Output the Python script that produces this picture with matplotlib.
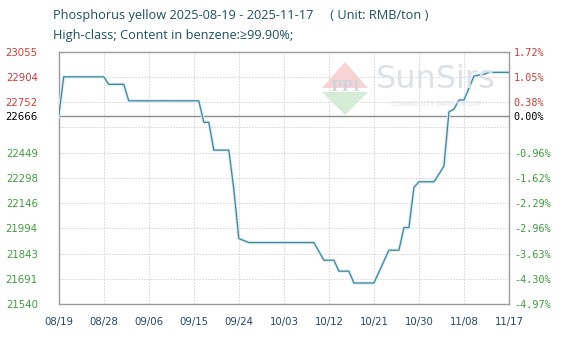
import matplotlib
matplotlib.use("Agg")
import matplotlib.pyplot as plt
import matplotlib.dates as mdates
from matplotlib.patches import Polygon
import numpy as np
import pandas as pd

# ---------------- data ----------------
dates = ["2025-08-19", "2025-08-20", "2025-08-28", "2025-08-29", "2025-09-01", "2025-09-02",
         "2025-09-16", "2025-09-17", "2025-09-18", "2025-09-19", "2025-09-22", "2025-09-23",
         "2025-09-24", "2025-09-26", "2025-10-09", "2025-10-11", "2025-10-13", "2025-10-14",
         "2025-10-16", "2025-10-17", "2025-10-21", "2025-10-24", "2025-10-26", "2025-10-27",
         "2025-10-28", "2025-10-29", "2025-10-30", "2025-11-02", "2025-11-03", "2025-11-04",
         "2025-11-05", "2025-11-06", "2025-11-07", "2025-11-08", "2025-11-10", "2025-11-12",
         "2025-11-13", "2025-11-17"]
prices = [22666, 22904, 22904, 22859, 22859, 22760,
          22760, 22631, 22631, 22464, 22464, 22230,
          21933, 21909, 21909, 21803, 21803, 21737,
          21737, 21666, 21666, 21863, 21863, 21999,
          21999, 22240, 22274, 22274, 22320, 22368,
          22694, 22710, 22765, 22765, 22909, 22920,
          22931, 22931]

base_price = 22666
y_min, y_max = 21540, 23055
left_labels = ["21540", "21691", "21843", "21994", "22146", "22298", "22449", "", "22752", "22904", "23055"]
right_labels = ["-4.97%", "-4.30%", "-3.63%", "-2.96%", "-2.29%", "-1.62%", "-0.96%", "", "0.38%", "1.05%", "1.72%"]
base_left_label = "22666"
base_right_label = "0.00%"
x_labels = ["08/19", "08/28", "09/06", "09/15", "09/24", "10/03", "10/12", "10/21", "10/30", "11/08", "11/17"]
x_tick_dates = ["2025-08-19", "2025-08-28", "2025-09-06", "2025-09-15", "2025-09-24", "2025-10-03",
                "2025-10-12", "2025-10-21", "2025-10-30", "2025-11-08", "2025-11-17"]
title1 = "Phosphorus yellow 2025-08-19 - 2025-11-17     ( Unit: RMB/ton )"
title2 = "High-class; Content in benzene:\u226599.90%;"

# ---------------- style ----------------
RED = "#d23a3a"
GREEN = "#3f9a3f"
TITLE_C = "#1f4f5f"
XLAB_C = "#23466b"
LINE_C = "#4a8698"
GRID_C = "#d2d2d2"
FRAME_C = "#9a9a9a"

W, H = 572, 343
fig = plt.figure(figsize=(W / 100, H / 100), dpi=100)
ax_l, ax_r, ax_t, ax_b = 58.7, 509, 51.7, 304
ax = fig.add_axes([ax_l / W, 1 - ax_b / H, (ax_r - ax_l) / W, (ax_b - ax_t) / H])

xd = pd.to_datetime(dates)
xt = pd.to_datetime(x_tick_dates)

# watermark
def px(x, y):
    return (x / W, 1 - y / H)

fig.patches.append(Polygon([px(322, 88), px(345, 62), px(368, 88)], closed=True,
                           transform=fig.transFigure, facecolor="#f8d3d3", edgecolor="none", zorder=0))
fig.patches.append(Polygon([px(322, 92), px(345, 115), px(368, 92)], closed=True,
                           transform=fig.transFigure, facecolor="#d6ecd6", edgecolor="none", zorder=0))
fig.text(*px(345, 87), "PPI", fontsize=11, color="#d0d5de", ha="center", va="center",
         family="DejaVu Serif", weight="bold", zorder=0)
fig.text(*px(436, 79), "SunSirs", fontsize=23, color="#dde2e8", ha="center", va="center", zorder=0)
fig.text(*px(436, 104), "COMMODITY DATA GROUP", fontsize=5, color="#dde2e8", ha="center", va="center", zorder=0)

# grid
grid_vals = np.linspace(y_min, y_max, 11)
for gv in grid_vals[1:-1]:
    ax.axhline(gv, color=GRID_C, lw=0.6, ls=(0, (2, 1.5)), zorder=1)
for d in xt[1:-1]:
    ax.axvline(d, color=GRID_C, lw=0.6, ls=(0, (2, 1.5)), zorder=1)
ax.axhline(base_price, color="#8c8c8c", lw=1.0, zorder=2)

ax.plot(xd, prices, color="#d8f1f6", lw=2.4, zorder=3, solid_joinstyle="round")
ax.plot(xd, prices, color=LINE_C, lw=0.95, zorder=4)

ax.set_xlim(xt[0], xt[-1])
ax.set_ylim(y_min, y_max)
ax.patch.set_alpha(0)
for s in ax.spines.values():
    s.set_color(FRAME_C)
    s.set_linewidth(1.0)

# left labels
lpos = list(grid_vals) + [base_price]
llab = left_labels + [base_left_label]
keep = [i for i, l in enumerate(llab) if l]
ax.set_yticks([lpos[i] for i in keep])
ax.set_yticklabels([llab[i] for i in keep], fontsize=7.3, family="DejaVu Sans")
ax.tick_params(axis="y", length=0, pad=15)
for t, i in zip(ax.get_yticklabels(), keep):
    v = lpos[i]
    t.set_color("black" if v == base_price else (RED if v > base_price else GREEN))

# x labels
ax.set_xticks(xt)
ax.set_xticklabels(x_labels, fontsize=7.3, color=XLAB_C)
ax.tick_params(axis="x", length=0, pad=9)

# right axis
ax2 = ax.twinx()
pct = lambda v: (v - base_price) / base_price * 100
ax2.set_ylim(pct(y_min), pct(y_max))
rpos = [pct(v) for v in grid_vals] + [0.0]
rlab = right_labels + [base_right_label]
keep_r = [i for i, l in enumerate(rlab) if l]
ax2.set_yticks([rpos[i] for i in keep_r])
ax2.set_yticklabels([rlab[i] for i in keep_r], fontsize=7.3, family="DejaVu Sans Mono")
ax2.tick_params(axis="y", length=0, pad=3.5)
for t, i in zip(ax2.get_yticklabels(), keep_r):
    v = rpos[i]
    t.set_color("black" if abs(v) < 1e-9 else (RED if v > 0 else GREEN))
for s in ax2.spines.values():
    s.set_visible(False)

fig.text(53 / W, 1 - 16 / H, title1, fontsize=9.2, color=TITLE_C, ha="left", va="center", family="Open Sans")
fig.text(53 / W, 1 - 36 / H, title2, fontsize=9.2, color=TITLE_C, ha="left", va="center", family="Open Sans")

fig.savefig("out.png", dpi=100)
